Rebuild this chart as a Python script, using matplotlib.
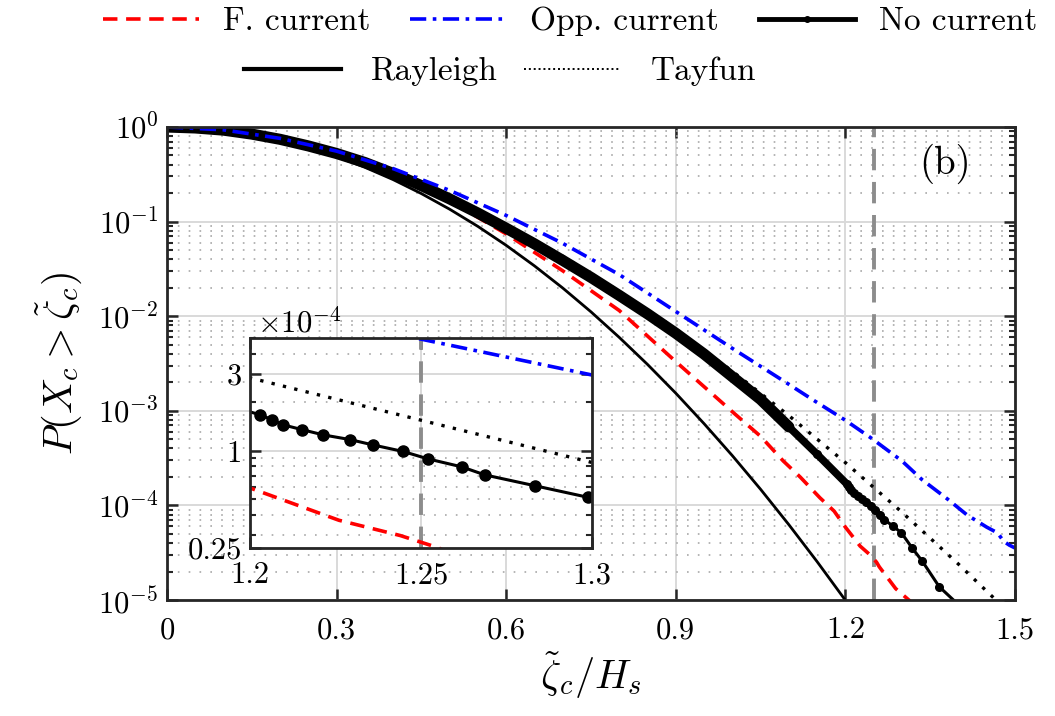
import matplotlib
matplotlib.use('Agg')
import matplotlib.pyplot as plt
import numpy as np
from matplotlib.lines import Line2D
from matplotlib.ticker import LogLocator, FixedLocator, FixedFormatter, NullFormatter

plt.rcParams.update({
    'font.family': 'serif',
    'font.serif': ['cmr10', 'DejaVu Serif'],
    'mathtext.fontset': 'cm',
    'axes.formatter.use_mathtext': True,
    'axes.unicode_minus': False,
})

# ---------------- data (x = crest / Hs, values = log10 of exceedance probability) ----------------
x_ray = [0.0, 0.05, 0.1, 0.15, 0.2, 0.25, 0.3, 0.35, 0.4, 0.45, 0.5, 0.55, 0.6, 0.65, 0.7,
         0.75, 0.8, 0.85, 0.9, 0.95, 1.0, 1.05, 1.1, 1.15, 1.2]
lg_ray = [0.0, -0.0087, -0.0347, -0.0782, -0.139, -0.217, -0.313, -0.426, -0.556, -0.704,
          -0.869, -1.051, -1.251, -1.468, -1.702, -1.954, -2.224, -2.510, -2.814, -3.136,
          -3.474, -3.830, -4.204, -4.595, -5.003]

x_tay = [0.0, 0.1, 0.2, 0.3, 0.4, 0.5, 0.6, 0.7, 0.8, 0.9, 1.0, 1.1, 1.2, 1.3, 1.4, 1.5]
lg_tay = [0.0, -0.0335, -0.1296, -0.282, -0.486, -0.737, -1.032, -1.366, -1.738, -2.144,
          -2.582, -3.051, -3.548, -4.072, -4.621, -5.194]

x_fc = [0.0, 0.1, 0.2, 0.3, 0.4, 0.5, 0.6, 0.7, 0.8, 0.9, 1.0, 1.05, 1.09, 1.12, 1.155,
        1.18, 1.2, 1.226, 1.244, 1.255, 1.26, 1.289, 1.316, 1.33]
lg_fc = [0.0, -0.032, -0.128, -0.28, -0.49, -0.78, -1.13, -1.52, -1.94, -2.48, -3.01, -3.27,
         -3.53, -3.70, -3.92, -4.06, -4.23, -4.43, -4.525, -4.60, -4.65, -4.88, -5.02, -5.12]

x_oc = [0.0, 0.1, 0.2, 0.3, 0.4, 0.5, 0.6, 0.7, 0.8, 0.9, 1.0, 1.1, 1.143, 1.2, 1.246, 1.3,
        1.336, 1.38, 1.415, 1.45, 1.469, 1.48, 1.49, 1.5]
lg_oc = [0.0, -0.03, -0.12, -0.255, -0.44, -0.67, -0.935, -1.23, -1.56, -1.95, -2.34, -2.72,
         -2.886, -3.10, -3.29, -3.53, -3.73, -3.93, -4.10, -4.23, -4.29, -4.38, -4.42, -4.45]

x_nc = [0.0, 0.05, 0.1, 0.15, 0.2, 0.25, 0.3, 0.35, 0.4, 0.45, 0.5, 0.55, 0.6, 0.65, 0.7,
        0.75, 0.8, 0.85, 0.9, 0.95, 1.0, 1.05, 1.1, 1.15,
        1.2029, 1.2063, 1.2097, 1.2151, 1.2214, 1.2292, 1.2359, 1.2448, 1.2521, 1.2619,
        1.2687, 1.2833, 1.2989, 1.318, 1.336, 1.366, 1.40]
lg_nc = [0.0, -0.01, -0.033, -0.075, -0.13, -0.2, -0.28, -0.375, -0.49, -0.62, -0.76, -0.91,
         -1.07, -1.235, -1.41, -1.59, -1.78, -1.975, -2.18, -2.40, -2.64, -2.88, -3.17, -3.46,
         -3.776, -3.806, -3.839, -3.868, -3.901, -3.930, -3.963, -4.004, -4.050, -4.099,
         -4.149, -4.216, -4.288, -4.45, -4.59, -4.86, -5.05]

threshold = 1.25
labels = ['F. current', 'Opp. current', 'No current', 'Rayleigh', 'Tayfun']

# ---------------- styles ----------------
RED = '#ff0000'
BLUE = '#0000ff'
GRAY = '#8c8c8c'
st_ray = dict(color='k', lw=2.0, ls='-')
st_tay = dict(color='k', lw=2.4, ls=(0, (1, 2.5)))
st_fc = dict(color=RED, lw=2.6, ls=(0, (4, 2.4)))
st_oc = dict(color=BLUE, lw=2.6, ls=(0, (4.5, 1.8, 1, 1.8)))

P = lambda v: 10.0 ** np.asarray(v)

fig = plt.figure(figsize=(10.55, 7.16), dpi=100)
ax = fig.add_axes([0.1583, 0.162, 0.8038, 0.6606])


def style_axes(a, minor_len=4.5):
    a.set_axisbelow(True)
    for s in a.spines.values():
        s.set_color('#262626')
        s.set_linewidth(2.0)
        s.set_zorder(10)
    a.tick_params(which='both', direction='in', top=True, right=True, colors='#262626',
                  labelcolor='k')
    a.tick_params(which='major', length=8, width=1.8)
    a.tick_params(which='minor', length=minor_len, width=1.5)


def draw_curves(a, ms, thick=True):
    a.plot(x_ray, P(lg_ray), **st_ray, zorder=3)
    a.plot(x_tay, P(lg_tay), **st_tay, zorder=3)
    a.plot(x_fc, P(lg_fc), **st_fc, zorder=3)
    xn = np.asarray(x_nc)
    pn = P(lg_nc)
    if thick:
        m1 = xn <= 1.1
        a.plot(xn[m1], pn[m1], color='k', lw=8.0, solid_capstyle='round', zorder=4)
        m2 = (xn >= 1.05) & (xn <= 1.21)
        a.plot(xn[m2], pn[m2], color='k', lw=5.5, solid_capstyle='round', zorder=4)
    a.plot(xn, pn, color='k', lw=2.2, marker='o', ms=ms, zorder=4)
    a.plot(x_oc, P(lg_oc), **st_oc, zorder=5)
    a.axvline(threshold, color=GRAY, lw=2.8, ls=(0, (5.5, 3)), zorder=2.5)


ax.set_yscale('log')
ax.set_xlim(0, 1.5)
ax.set_ylim(1e-5, 1)
ax.set_xticks([0, 0.3, 0.6, 0.9, 1.2, 1.5])
ax.set_xticklabels(['0', '0.3', '0.6', '0.9', '1.2', '1.5'])
ax.yaxis.set_major_locator(LogLocator(base=10, numticks=10))
ax.yaxis.set_minor_locator(LogLocator(base=10, subs=np.arange(2, 10), numticks=20))
ax.yaxis.set_minor_formatter(NullFormatter())
ax.grid(which='major', axis='both', color='#d9d9d9', lw=1.4, ls='-')
ax.grid(which='minor', axis='y', color='#a8a8a8', lw=1.2, ls=(0, (1, 5.5)))
style_axes(ax)
ax.tick_params(axis='x', which='major', pad=12, labelsize=22)
ax.tick_params(axis='y', which='major', pad=6, labelsize=22)

draw_curves(ax, ms=5.5)

ax.set_xlabel(r'$\tilde{\zeta}_c/H_s$', fontsize=29, labelpad=4)
ax.set_ylabel(r'$P(X_c>\tilde{\zeta}_c)$', fontsize=29, labelpad=10)
ax.text(0.917, 0.922, '(b)', transform=ax.transAxes, fontsize=28, ha='center', va='center')

# ---------------- inset ----------------
axi = fig.add_axes([0.237, 0.2346, 0.324, 0.2933])
axi.set_facecolor('white')
axi.set_zorder(20)
axi.set_yscale('log')
axi.set_xlim(1.2, 1.3)
axi.set_ylim(0.25e-4, 5e-4)
axi.xaxis.set_major_locator(FixedLocator([1.2, 1.25, 1.3]))
axi.xaxis.set_major_formatter(FixedFormatter(['1.2', '1.25', '1.3']))
axi.yaxis.set_major_locator(FixedLocator([0.25e-4, 1e-4, 3e-4]))
axi.yaxis.set_major_formatter(FixedFormatter(['0.25', '1', '3']))
axi.yaxis.set_minor_locator(FixedLocator([3e-5, 4e-5, 5e-5, 6e-5, 7e-5, 8e-5, 9e-5,
                                          2e-4, 4e-4, 5e-4]))
axi.yaxis.set_minor_formatter(NullFormatter())
axi.grid(which='major', axis='both', color='#d9d9d9', lw=1.4, ls='-')
axi.grid(which='minor', axis='y', color='#a8a8a8', lw=1.2, ls=(0, (1, 5.5)))
style_axes(axi, minor_len=4)
axi.tick_params(which='major', labelsize=22)
axi.tick_params(axis='x', which='major', pad=10)
axi.tick_params(axis='y', which='major', pad=6)
draw_curves(axi, ms=8, thick=False)
fig.text(0.284, 0.549, r'$\times10^{-4}$', fontsize=22, ha='center', va='center')

# ---------------- legend ----------------
h_fc = Line2D([], [], **st_fc)
h_oc = Line2D([], [], **st_oc)
h_nc = Line2D([], [], color='k', lw=3.5, marker='o', ms=4)
h_ray = Line2D([], [], color='k', lw=3.0)
h_tay = Line2D([], [], color='k', lw=1.4, ls=(0, (1, 1.5)))
fig.legend([h_fc, h_oc, h_nc], labels[:3], loc='center', bbox_to_anchor=(0.540, 0.970),
           ncol=3, frameon=False, fontsize=24, handlelength=2.9, handletextpad=0.7,
           columnspacing=1.2, numpoints=1, borderpad=0.1)
fig.legend([h_ray, h_tay], labels[3:], loc='center', bbox_to_anchor=(0.474, 0.900),
           ncol=2, frameon=False, fontsize=24, handlelength=2.9, handletextpad=0.9,
           columnspacing=0.8, numpoints=1, borderpad=0.1)

fig.savefig('out.png', dpi=100)
